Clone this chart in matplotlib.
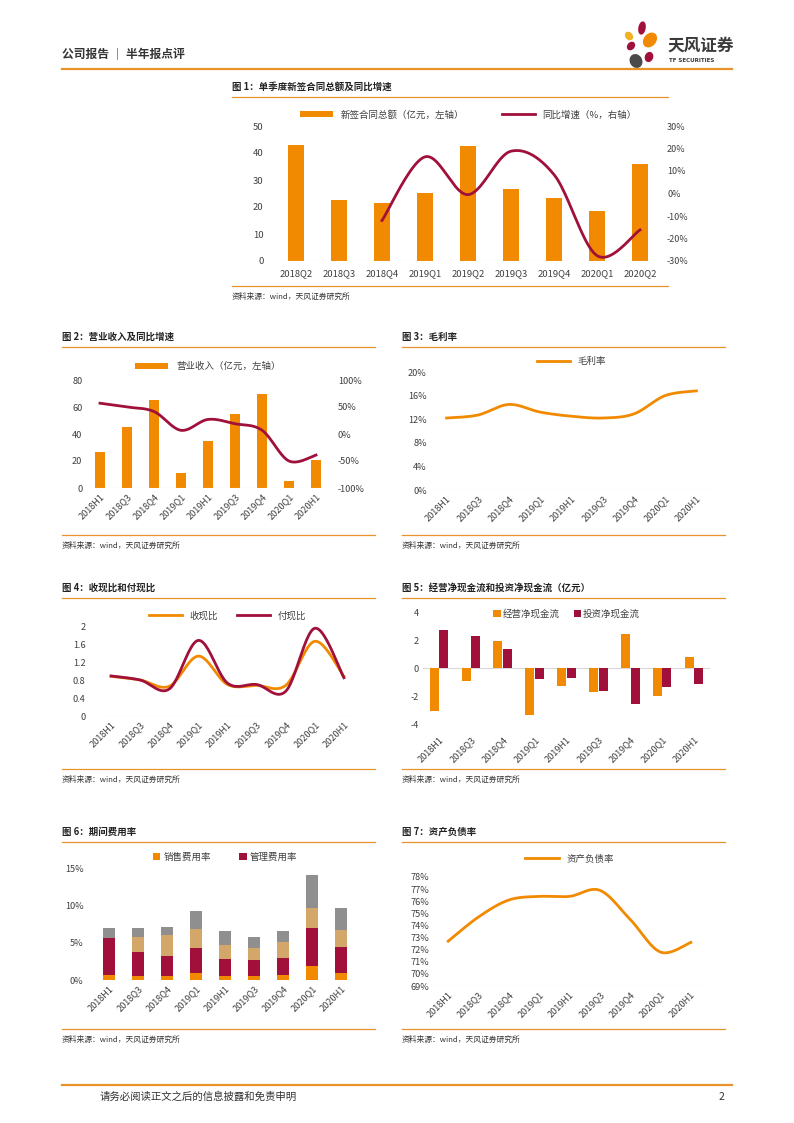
import numpy as np
import matplotlib
matplotlib.use("Agg")
import matplotlib.pyplot as plt
from matplotlib.patches import Ellipse

plt.rcParams['font.family'] = ['Noto Sans CJK SC', 'DejaVu Sans']
plt.rcParams['axes.unicode_minus'] = False

ORANGE = '#F18A00'
CRIMSON = '#A0103A'
TAN = '#D3A76A'
GRAY = '#8F8F8F'
LINE = '#E8922A'
TXT = '#404040'

# ---- data ----
q1_cats = ['2018Q2', '2018Q3', '2018Q4', '2019Q1', '2019Q2', '2019Q3', '2019Q4', '2020Q1', '2020Q2']
new_contract = [42.8, 22.6, 21.4, 25.3, 42.6, 26.8, 23.2, 18.5, 35.8]
contract_yoy = [None, None, -12.0, 16.3, -0.5, 18.8, 8.4, -27.6, -16.2]

cats = ['2018H1', '2018Q3', '2018Q4', '2019Q1', '2019H1', '2019Q3', '2019Q4', '2020Q1', '2020H1']
revenue = [27, 45, 65, 11, 34.5, 54.5, 69.5, 5.5, 21]
revenue_yoy = [57, 50, 41.6, 6.8, 27, 19, 7, -50, -39]
gross_margin = [12.2, 12.7, 14.5, 13.2, 12.5, 12.2, 12.9, 16.0, 16.8]
cash_recv_ratio = [0.88, 0.80, 0.66, 1.33, 0.70, 0.68, 0.68, 1.66, 0.88]
cash_paid_ratio = [0.89, 0.80, 0.60, 1.68, 0.73, 0.70, 0.55, 1.95, 0.85]
op_cashflow = [-3.1, -0.9, 1.95, -3.35, -1.25, -1.7, 2.45, -2.0, 0.8]
inv_cashflow = [2.75, 2.3, 1.35, -0.8, -0.7, -1.65, -2.6, -1.35, -1.15]
sales_exp = [0.7, 0.6, 0.5, 1.0, 0.6, 0.6, 0.7, 1.9, 1.0]
admin_exp = [4.9, 3.1, 2.7, 3.3, 2.2, 2.1, 2.3, 5.1, 3.4]
other_exp1 = [0.0, 2.1, 2.8, 2.5, 1.9, 1.6, 2.1, 2.6, 2.3]
other_exp2 = [1.4, 1.1, 1.1, 2.5, 1.9, 1.4, 1.4, 4.4, 3.0]
debt_ratio = [72.7, 74.7, 76.1, 76.4, 76.4, 76.9, 74.5, 71.8, 72.6]

W, H = 794, 1123
fig = plt.figure(figsize=(W / 100, H / 100), dpi=100)


def fx(x):
    return x / W


def fy(y):
    return 1 - y / H


def axes_px(x0, y0, x1, y1):
    return fig.add_axes([fx(x0), fy(y1), fx(x1 - x0), (y1 - y0) / H])


def hline(x0, x1, y, color=LINE, lw=1.0):
    fig.add_artist(plt.Line2D([fx(x0), fx(x1)], [fy(y), fy(y)], color=color, lw=lw))


def smooth(x, y, n=24):
    pts = np.column_stack([x, y]).astype(float)
    P = np.vstack([pts[0], pts, pts[-1]])
    out = []
    t = np.linspace(0, 1, n, endpoint=False)[:, None]
    for i in range(len(pts) - 1):
        p0, p1, p2, p3 = P[i], P[i + 1], P[i + 2], P[i + 3]
        seg = 0.5 * (2 * p1 + (-p0 + p2) * t + (2 * p0 - 5 * p1 + 4 * p2 - p3) * t ** 2
                     + (-p0 + 3 * p1 - 3 * p2 + p3) * t ** 3)
        out.append(seg)
    out.append(pts[-1:])
    s = np.vstack(out)
    return s[:, 0], s[:, 1]


def style(ax, n, rot=True, fs=6.6):
    for s in ax.spines.values():
        s.set_visible(False)
    ax.set_xlim(-0.5, n - 0.5)
    ax.tick_params(length=0, labelsize=fs, colors=TXT, pad=3)
    ax.set_xticks(range(n))
    if rot:
        ax.set_xticklabels(cats, rotation=45, ha='right', rotation_mode='anchor')


def title_block(x, y, x1, text, src_y):
    fig.text(fx(x), fy(y), text, fontsize=6.8, fontweight='bold', color='#222222', va='center')
    hline(x, x1, y + 10, lw=0.9)
    hline(x, x1, src_y - 11, lw=0.9)
    fig.text(fx(x), fy(src_y), '资料来源：wind，天风证券研究所', fontsize=5.6, color='#333333', va='center')


# ---- header ----
fig.text(fx(62), fy(55), '公司报告 ｜ 半年报点评', fontsize=8.5, fontweight='bold', color='#333333', va='center')
hline(62, 732, 69, lw=1.6)
fig.text(fx(667), fy(46), '天风证券', fontsize=12, fontweight='bold', color='#3a3a3a', va='center')
fig.text(fx(669), fy(61), 'TF SECURITIES', fontsize=4.0, fontweight='bold', color='#3a3a3a', va='center',
         family='DejaVu Sans')
logo = fig.add_axes([fx(620), fy(70), fx(40), 50 / H])
logo.set_xlim(0, 40)
logo.set_ylim(0, 50)
logo.axis('off')
logo.add_patch(Ellipse((22, 42), 6, 12, angle=-10, color=CRIMSON))
logo.add_patch(Ellipse((30, 30), 11, 15, angle=-40, color=ORANGE))
logo.add_patch(Ellipse((9, 34), 6, 8, angle=40, color='#F0B323'))
logo.add_patch(Ellipse((11, 24), 6, 8, angle=-40, color=CRIMSON))
logo.add_patch(Ellipse((16, 9), 11, 13, angle=30, color='#4a4a4a'))
logo.add_patch(Ellipse((29, 13), 7, 9, angle=-20, color=CRIMSON))

# ---- chart 1 ----
title_block(232, 87, 668, '图 1：单季度新签合同总额及同比增速', 297)
ax = axes_px(274.5, 126, 661.5, 261)
style(ax, 9, rot=False, fs=6.8)
ax.set_xticklabels(q1_cats)
ax.tick_params(axis='x', pad=6)
ax.tick_params(axis='y', pad=8)
ax.bar(range(9), new_contract, width=0.38, color=ORANGE, label='新签合同总额（亿元，左轴）')
ax.set_ylim(0, 50)
ax.set_yticks(range(0, 51, 10))
ax.axhline(0, color='#D9D9D9', lw=0.8)
ax2 = ax.twinx()
idx = [i for i, v in enumerate(contract_yoy) if v is not None]
sx, sy = smooth(idx, [contract_yoy[i] for i in idx])
ax2.plot(sx, sy, color=CRIMSON, lw=2.0, label='同比增速（%，右轴）')
ax2.set_ylim(-30, 30)
ax2.set_yticks(range(-30, 31, 10))
ax2.set_yticklabels([f'{v}%' for v in range(-30, 31, 10)])
for s in ax2.spines.values():
    s.set_visible(False)
ax2.tick_params(length=0, labelsize=6.5, colors=TXT, pad=4)
h1, l1 = ax.get_legend_handles_labels()
h2, l2 = ax2.get_legend_handles_labels()
ax.legend(h1 + h2, l1 + l2, loc='lower center', bbox_to_anchor=(0.5, 1.0), ncol=2, frameon=False,
          fontsize=6.8, handlelength=3.5, columnspacing=4, labelcolor=TXT, borderaxespad=0.3)

# ---- chart 2 ----
title_block(62, 337, 375, '图 2：营业收入及同比增速', 546)
ax = axes_px(86.5, 380, 329.5, 488)
style(ax, 9)
ax.bar(range(9), revenue, width=0.4, color=ORANGE, label='营业收入（亿元，左轴）')
ax.set_ylim(0, 80)
ax.set_yticks(range(0, 81, 20))
ax.axhline(0, color='#D9D9D9', lw=0.8)
ax2 = ax.twinx()
sx, sy = smooth(range(9), revenue_yoy)
ax2.plot(sx, sy, color=CRIMSON, lw=2.0)
ax2.set_ylim(-100, 100)
ax2.set_yticks(range(-100, 101, 50))
ax2.set_yticklabels([f'{v}%' for v in range(-100, 101, 50)])
for s in ax2.spines.values():
    s.set_visible(False)
ax2.tick_params(length=0, labelsize=6.6, colors=TXT, pad=6)
ax.legend(loc='lower center', bbox_to_anchor=(0.5, 1.02), frameon=False, fontsize=6.8,
          handlelength=3.5, labelcolor=TXT, borderaxespad=0.3)

# ---- chart 3 ----
title_block(402, 337, 725, '图 3：毛利率', 546)
ax = axes_px(431, 372, 712, 490)
style(ax, 9)
sx, sy = smooth(range(9), gross_margin)
ax.plot(sx, sy, color=ORANGE, lw=2.0, label='毛利率')
ax.set_ylim(0, 20)
ax.set_yticks(range(0, 21, 4))
ax.set_yticklabels([f'{v}%' for v in range(0, 21, 4)])
ax.axhline(0, color='#D9D9D9', lw=0.8)
ax.legend(loc='lower center', bbox_to_anchor=(0.5, 1.0), frameon=False, fontsize=6.8,
          handlelength=3.5, labelcolor=TXT, borderaxespad=0.2)

# ---- chart 4 ----
title_block(62, 588, 375, '图 4：收现比和付现比', 780)
ax = axes_px(96.5, 626, 358.5, 716)
style(ax, 9)
sx, sy = smooth(range(9), cash_recv_ratio)
ax.plot(sx, sy, color=ORANGE, lw=2.0, label='收现比')
sx, sy = smooth(range(9), cash_paid_ratio)
ax.plot(sx, sy, color=CRIMSON, lw=2.0, label='付现比')
ax.set_ylim(0, 2)
ax.set_yticks([0, 0.4, 0.8, 1.2, 1.6, 2])
ax.set_yticklabels(['0', '0.4', '0.8', '1.2', '1.6', '2'])
ax.tick_params(axis='y', pad=8)
ax.axhline(0, color='#D9D9D9', lw=0.8)
ax.legend(loc='lower center', bbox_to_anchor=(0.5, 1.0), ncol=2, frameon=False, fontsize=6.8,
          handlelength=3.5, labelcolor=TXT, borderaxespad=0.2)

# ---- chart 5 ----
title_block(402, 588, 725, '图 5：经营净现金流和投资净现金流（亿元）', 780)
ax = axes_px(423, 612, 710, 724)
style(ax, 9)
xs = np.arange(9)
ax.bar(xs - 0.15, op_cashflow, width=0.28, color=ORANGE, label='经营净现金流')
ax.bar(xs + 0.15, inv_cashflow, width=0.28, color=CRIMSON, label='投资净现金流')
ax.set_ylim(-4, 4)
ax.set_yticks([-4, -2, 0, 2, 4])
ax.axhline(0, color='#D9D9D9', lw=0.8, zorder=0)
ax.tick_params(axis='x', pad=8)
ax.legend(loc='upper center', bbox_to_anchor=(0.5, 1.1), ncol=2, frameon=False, fontsize=6.8,
          handlelength=0.8, handleheight=0.8, handletextpad=0.2, columnspacing=1.5, labelcolor=TXT)

# ---- chart 6 ----
title_block(62, 832, 375, '图 6：期间费用率', 1040)
ax = axes_px(94.5, 868, 355.5, 980)
style(ax, 9)
b1 = np.array(sales_exp)
b2 = b1 + np.array(admin_exp)
b3 = b2 + np.array(other_exp1)
ax.bar(xs, sales_exp, width=0.4, color=ORANGE, label='销售费用率')
ax.bar(xs, admin_exp, width=0.4, bottom=b1, color=CRIMSON, label='管理费用率')
ax.bar(xs, other_exp1, width=0.4, bottom=b2, color=TAN)
ax.bar(xs, other_exp2, width=0.4, bottom=b3, color=GRAY)
ax.set_ylim(0, 15)
ax.set_yticks([0, 5, 10, 15])
ax.set_yticklabels(['0%', '5%', '10%', '15%'])
ax.tick_params(axis='y', pad=8)
ax.axhline(0, color='#D9D9D9', lw=0.8, zorder=0)
ax.legend(loc='lower center', bbox_to_anchor=(0.5, 0.98), ncol=2, frameon=False, fontsize=6.8,
          handlelength=0.8, handleheight=0.8, handletextpad=0.3, columnspacing=3, labelcolor=TXT)

# ---- chart 7 ----
title_block(402, 832, 725, '图 7：资产负债率', 1040)
ax = axes_px(433, 877, 706, 986)
style(ax, 9)
sx, sy = smooth(range(9), debt_ratio)
ax.plot(sx, sy, color=ORANGE, lw=2.0, label='资产负债率')
ax.set_ylim(69, 78)
ax.set_yticks(range(69, 79))
ax.set_yticklabels([f'{v}%' for v in range(69, 79)])
ax.axhline(69, color='#D9D9D9', lw=0.8)
ax.legend(loc='lower center', bbox_to_anchor=(0.5, 1.07), frameon=False, fontsize=6.8,
          handlelength=3.5, labelcolor=TXT, borderaxespad=0.2)

# ---- footer ----
hline(62, 732, 1085, lw=1.6)
fig.text(fx(100), fy(1097), '请务必阅读正文之后的信息披露和免责申明', fontsize=7.5, color='#333333', va='center')
fig.text(fx(724), fy(1097), '2', fontsize=7.5, color='#333333', va='center', ha='right')

fig.savefig('out.png', dpi=100)
